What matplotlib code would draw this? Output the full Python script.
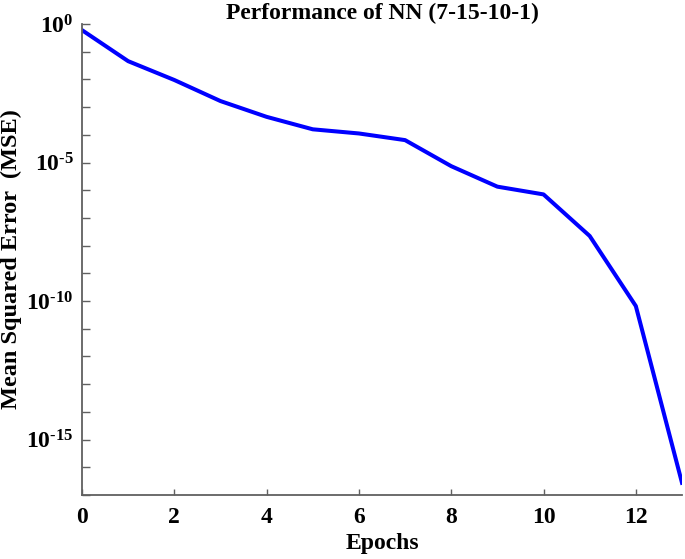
import matplotlib
matplotlib.use("Agg")
import matplotlib.pyplot as plt
from matplotlib.ticker import FixedLocator, NullFormatter

# training curve (log10 of MSE per epoch)
epochs = [0, 1, 2, 3, 4, 5, 6, 7, 8, 9, 10, 11, 12, 13]
log_mse = [-0.22, -1.34, -2.02, -2.78, -3.35, -3.80, -3.95, -4.19,
           -5.13, -5.87, -6.15, -7.65, -10.18, -16.56]
mse = [10 ** v for v in log_mse]

major_exp = [0, -5, -10, -15]
x_ticks = [0, 2, 4, 6, 8, 10, 12]

plt.rcParams['font.family'] = ['Liberation Serif', 'DejaVu Serif']
plt.rcParams['font.weight'] = 'bold'
plt.rcParams['mathtext.fontset'] = 'custom'
plt.rcParams['mathtext.rm'] = 'Liberation Serif:bold'
plt.rcParams['mathtext.it'] = 'Liberation Serif:bold'
plt.rcParams['mathtext.bf'] = 'Liberation Serif:bold'

fig = plt.figure(figsize=(6.85, 5.59), dpi=100)
ax = fig.add_axes([0.1197, 0.1145, 0.8759, 0.8425])

ax.plot(epochs, mse, color='#0000ff', linewidth=2.9)

ax.set_yscale('log')
ax.set_xlim(0, 13)
ax.set_ylim(1e-17, 1)

ax.yaxis.set_major_locator(FixedLocator([10.0 ** e for e in major_exp]))
ax.set_yticklabels([r'$10^{\text{%d}}$' % e for e in major_exp])
ax.yaxis.set_minor_locator(FixedLocator([10.0 ** e for e in range(-17, 1)]))
ax.yaxis.set_minor_formatter(NullFormatter())
ax.set_xticks(x_ticks)
ax.set_xticklabels([str(t) for t in x_ticks])

for side in ['top', 'right']:
    ax.spines[side].set_visible(False)
for side in ['left', 'bottom']:
    ax.spines[side].set_color('#606060')
    ax.spines[side].set_linewidth(1.3)

ax.tick_params(axis='both', which='both', direction='in', color='#606060',
               width=1.0, labelsize=17)
ax.tick_params(axis='y', which='both', length=6, pad=6)
ax.tick_params(axis='x', which='major', length=4.5, pad=9)

ax.set_xlabel('Epochs', fontsize=17, fontweight='bold', labelpad=3)
ax.set_ylabel('Mean Squared Error  (MSE)', fontsize=17.5, fontweight='bold')
ax.yaxis.set_label_coords(-0.1, 0.5)
ax.set_title('Performance of NN (7-15-10-1)', fontsize=17, fontweight='bold', pad=3)

fig.savefig('out.png', dpi=100)
